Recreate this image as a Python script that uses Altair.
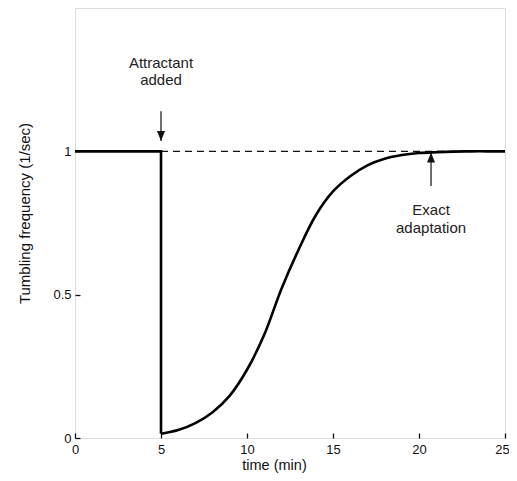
import altair as alt
import pandas as pd

# Step before attractant is added
step_t = [0, 5, 5]
step_f = [1.0, 1.0, 0.015]

# Recovery after attractant is added
curve_t = [5, 6, 7, 8, 9, 10, 11, 12, 13, 14, 15, 16, 17, 18, 19, 20, 21, 22, 23, 24, 25]
curve_f = [0.015, 0.028, 0.052, 0.09, 0.148, 0.238, 0.36, 0.52, 0.657, 0.777, 0.86, 0.913, 0.951, 0.974, 0.987, 0.994, 0.997, 0.999, 1.0, 1.0, 1.0]

# Reference (pre-stimulus) level
ref_t = [5, 25]
ref_f = [1.0, 1.0]

# Annotations
ann_text = ["Attractant", "added", "Exact", "adaptation"]
ann_t = [5, 5, 20.7, 20.7]
ann_f = [1.307, 1.248, 0.795, 0.733]

arrow_t = [5, 20.7]
arrow_tail = [1.14, 0.879]
arrow_tip = [1.036, 0.996]
arrow_shape = ["M0,0 L-0.4,-1 L0.4,-1 Z", "M0,0 L-0.4,1 L0.4,1 Z"]

x_ticks = [0, 5, 10, 15, 20, 25]
y_ticks = [0, 0.5, 1]

FONT = "Liberation Sans"
INK = "#111"

step_df = pd.DataFrame({"t": step_t, "f": step_f, "o": list(range(len(step_t)))})
curve_df = pd.DataFrame({"t": curve_t, "f": curve_f})
ref_df = pd.DataFrame({"t": ref_t, "f": ref_f})
ann_df = pd.DataFrame({"t": ann_t, "f": ann_f, "label": ann_text})
arr_df = pd.DataFrame({"t": arrow_t, "tail": arrow_tail, "tip": arrow_tip, "shape": arrow_shape})

xs = alt.Scale(domain=[0, 25], nice=False, zero=False)
ys = alt.Scale(domain=[0, 1.5], nice=False, zero=False)

x_axis = alt.Axis(
    values=x_ticks, domain=False, grid=False, tickSize=5, offset=-5,
    tickColor=INK, tickWidth=1.3, labelFlush=False, labelPadding=5,
    labelOffset={"expr": "datum.value === 25 ? -3 : 0"},
    labelFont=FONT, labelFontSize=13, labelColor=INK,
    title="time (min)", titleFont=FONT, titleFontSize=14.5, titleFontWeight="normal",
    titleColor=INK, titleX=199, titleY=32, titleBaseline="middle", titleAlign="center",
)
y_axis = alt.Axis(
    values=y_ticks, domain=False, grid=False, tickSize=5, offset=-5,
    tickColor=INK, tickWidth=1.3, labelPadding=4, labelFlush=False,
    labelFont=FONT, labelFontSize=13, labelColor=INK,
    format="~g",
    title="Tumbling frequency (1/sec)", titleFont=FONT, titleFontSize=15,
    titleFontWeight="normal", titleColor=INK, titleX=-56, titleY=205,
    titleBaseline="middle", titleAlign="center", titleAngle=-90,
)

base_x = alt.X("t:Q", scale=xs, axis=x_axis)
base_y = alt.Y("f:Q", scale=ys, axis=y_axis)

ref = alt.Chart(ref_df).mark_line(color=INK, strokeWidth=1.2, strokeDash=[7, 5]).encode(
    x=alt.X("t:Q", scale=xs), y=alt.Y("f:Q", scale=ys)
)

step = alt.Chart(step_df).mark_line(color="black", strokeWidth=2.6, strokeJoin="miter").encode(
    x=base_x, y=base_y, order="o:Q"
)

curve = alt.Chart(curve_df).mark_line(color="black", strokeWidth=2.6, interpolate="catmull-rom").encode(
    x=alt.X("t:Q", scale=xs), y=alt.Y("f:Q", scale=ys)
)

arrows = alt.Chart(arr_df).mark_rule(color=INK, strokeWidth=1.2).encode(
    x=alt.X("t:Q", scale=xs), y=alt.Y("tail:Q", scale=ys), y2="tip:Q"
)
heads = alt.Chart(arr_df).mark_point(filled=True, color=INK, size=400, opacity=1).encode(
    x=alt.X("t:Q", scale=xs), y=alt.Y("tip:Q", scale=ys),
    shape=alt.Shape("shape:N", scale=None, legend=None),
)

texts = alt.Chart(ann_df).mark_text(font=FONT, fontSize=15, color="#222", align="center", baseline="middle").encode(
    x=alt.X("t:Q", scale=xs), y=alt.Y("f:Q", scale=ys), text="label:N"
)

chart = alt.layer(ref, step, curve, arrows, heads, texts).properties(
    width=430, height=430,
    autosize=alt.AutoSizeParams(type="none"),
    padding={"left": 67, "top": 0, "right": 4, "bottom": 35},
).configure_view(stroke=INK, strokeWidth=1.4).configure(background="white")

chart.save("out.html", embed_options={"renderer": "svg", "actions": False})
